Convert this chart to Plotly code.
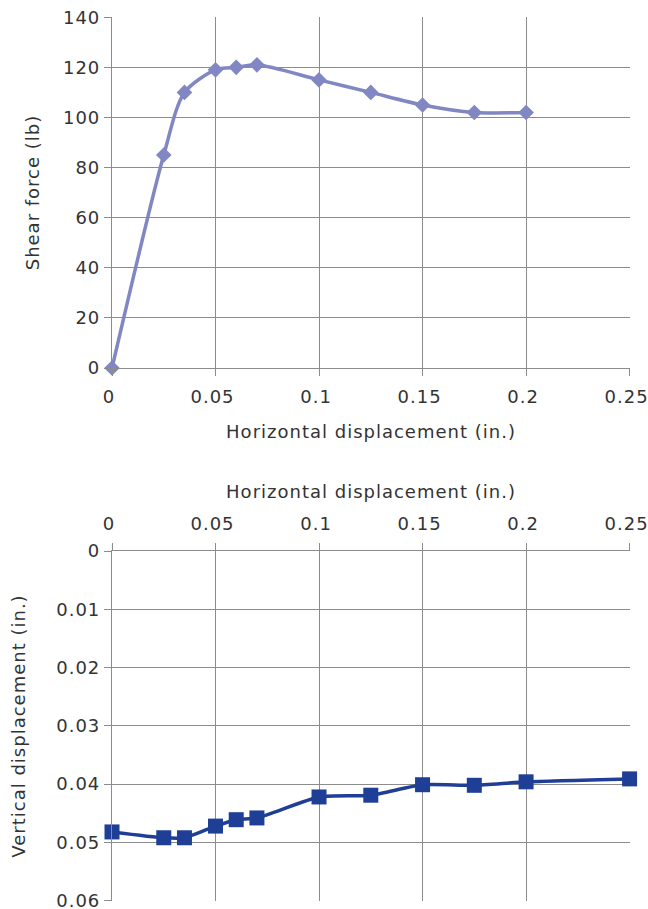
import plotly.graph_objects as go

# Data
horiz_disp = [0, 0.025, 0.035, 0.05, 0.06, 0.07, 0.1, 0.125, 0.15, 0.175, 0.2]
shear_force = [0, 85, 110, 119, 120, 121, 115, 110, 105, 102, 102]

horiz_disp2 = [0, 0.025, 0.035, 0.05, 0.06, 0.07, 0.1, 0.125, 0.15, 0.175, 0.2, 0.25]
vert_disp = [0.0482, 0.0492, 0.0492, 0.0472, 0.0461, 0.0458, 0.0422, 0.0419, 0.0401, 0.0402, 0.0396, 0.0391]

x_ticks = [0, 0.05, 0.1, 0.15, 0.2, 0.25]
x_tick_labels = ["0", "0.05", "0.1", "0.15", "0.2", "0.25"]
y1_ticks = [0, 20, 40, 60, 80, 100, 120, 140]
y2_ticks = [0, 0.01, 0.02, 0.03, 0.04, 0.05, 0.06]
y2_tick_labels = ["0", "0.01", "0.02", "0.03", "0.04", "0.05", "0.06"]

W, H = 648, 909
FONT = dict(family="DejaVu Sans", size=18, color="#333333")
GRID = "#8c8c8c"

fig = go.Figure()
fig.add_trace(go.Scatter(
    x=horiz_disp, y=shear_force, mode="lines+markers",
    line=dict(color="#8087c2", width=3.5, shape="spline", smoothing=0.8),
    marker=dict(symbol="diamond", size=12, color="#8087c2"),
    cliponaxis=False, xaxis="x", yaxis="y", showlegend=False,
))
fig.add_trace(go.Scatter(
    x=horiz_disp2, y=vert_disp, mode="lines+markers",
    line=dict(color="#1f3f96", width=3.5, shape="spline", smoothing=0.6),
    marker=dict(symbol="square", size=15, color="#1f3f96"),
    cliponaxis=False, xaxis="x2", yaxis="y2", showlegend=False,
))

def px_x(a, b):
    return [a / W, b / W]

def px_y(top, bottom):
    return [(H - bottom) / H, (H - top) / H]

common_axis = dict(
    showgrid=True, gridcolor=GRID, gridwidth=1.2,
    showline=True, linecolor=GRID, linewidth=1.2,
    ticks="outside", ticklen=7, tickcolor=GRID, tickwidth=1.2,
    tickfont=FONT, zeroline=False, automargin=False,
    ticklabeloverflow="allow",
)

fig.update_layout(
    width=W, height=H,
    margin=dict(l=0, r=0, t=0, b=0),
    paper_bgcolor="white", plot_bgcolor="white",
    font=FONT,
    xaxis=dict(domain=px_x(112, 630), range=[0, 0.2502], tickvals=x_ticks,
               ticktext=x_tick_labels, anchor="y", side="bottom",
               ticklabelshift=-3, ticklabelstandoff=5,
               title=dict(text="Horizontal displacement (in.)", font=FONT, standoff=19),
               **common_axis),
    yaxis=dict(domain=px_y(17, 368), range=[0, 140.1], tickvals=y1_ticks,
               anchor="x",
               title=dict(text="Shear force (lb)", font=FONT, standoff=21),
               **common_axis),
    xaxis2=dict(domain=px_x(112, 630), range=[0, 0.2502], tickvals=x_ticks,
                ticktext=x_tick_labels, anchor="y2", side="top",
                ticklabelshift=-3, ticklabelstandoff=6,
                title=dict(text="Horizontal displacement (in.)", font=FONT, standoff=9),
                **common_axis),
    yaxis2=dict(domain=px_y(551, 901), range=[0.06005, 0], tickvals=y2_ticks,
                ticktext=y2_tick_labels, anchor="x2",
                title=dict(text="Vertical displacement (in.)", font=FONT, standoff=29),
                **common_axis),
)

post = """
document.body.style.margin = '0';
var st = document.createElement('style');
st.textContent = '.js-plotly-plot text { letter-spacing: 1px; }';
document.head.appendChild(st);
"""

fig.write_html("out.html", post_script=post, config={"displayModeBar": False})
